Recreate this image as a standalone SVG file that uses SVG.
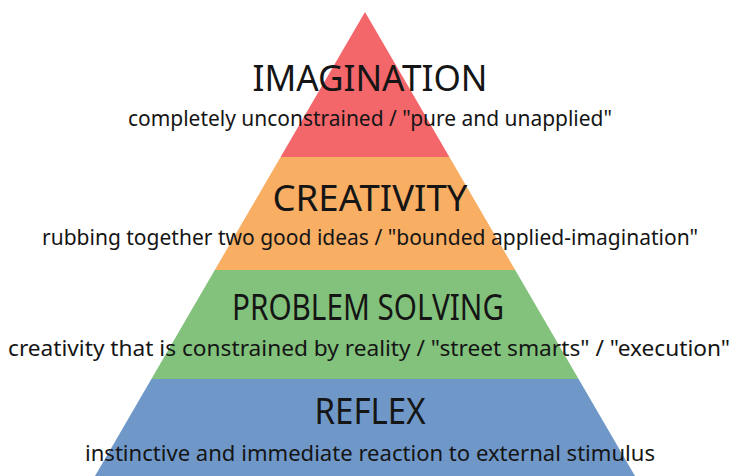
<svg xmlns="http://www.w3.org/2000/svg" width="732" height="476" viewBox="0 0 732 476">
  <style>
    .title { font-family: "Noto Sans", "DejaVu Sans", sans-serif; font-size: 36px; fill: #151515; text-anchor: middle; }
    .sub { font-family: "Noto Sans", "DejaVu Sans", sans-serif; font-size: 21px; fill: #151515; text-anchor: middle; }
  </style>
  <rect width="732" height="476" fill="#ffffff"/>

  <!-- Pyramid tiers, top to bottom -->
  <g id="tier-imagination">
    <polygon points="365,12 449.4,157 280.6,157" fill="#F3676B"/>
    <text class="title" x="370" y="91" textLength="235" lengthAdjust="spacingAndGlyphs">IMAGINATION</text>
    <text class="sub" x="370" y="126" textLength="484" lengthAdjust="spacingAndGlyphs">completely unconstrained / "pure and unapplied"</text>
  </g>

  <g id="tier-creativity">
    <polygon points="280.6,157 449.4,157 515.2,270 214.8,270" fill="#F8AE63"/>
    <text class="title" x="370" y="211" textLength="195" lengthAdjust="spacingAndGlyphs">CREATIVITY</text>
    <text class="sub" x="370" y="245" textLength="656" lengthAdjust="spacingAndGlyphs">rubbing together two good ideas / "bounded applied-imagination"</text>
  </g>

  <g id="tier-problem-solving">
    <polygon points="214.8,270 515.2,270 578.6,379 151.4,379" fill="#82C27C"/>
    <text class="title" x="368" y="320" textLength="272" lengthAdjust="spacingAndGlyphs">PROBLEM SOLVING</text>
    <text class="sub" x="369" y="356" textLength="722" lengthAdjust="spacingAndGlyphs">creativity that is constrained by reality / "street smarts" / "execution"</text>
  </g>

  <g id="tier-reflex">
    <polygon points="151.4,379 578.6,379 635,476 95,476" fill="#6F98C9"/>
    <text class="title" x="370" y="424" textLength="111" lengthAdjust="spacingAndGlyphs">REFLEX</text>
    <text class="sub" x="370" y="461" textLength="570" lengthAdjust="spacingAndGlyphs">instinctive and immediate reaction to external stimulus</text>
  </g>
</svg>
